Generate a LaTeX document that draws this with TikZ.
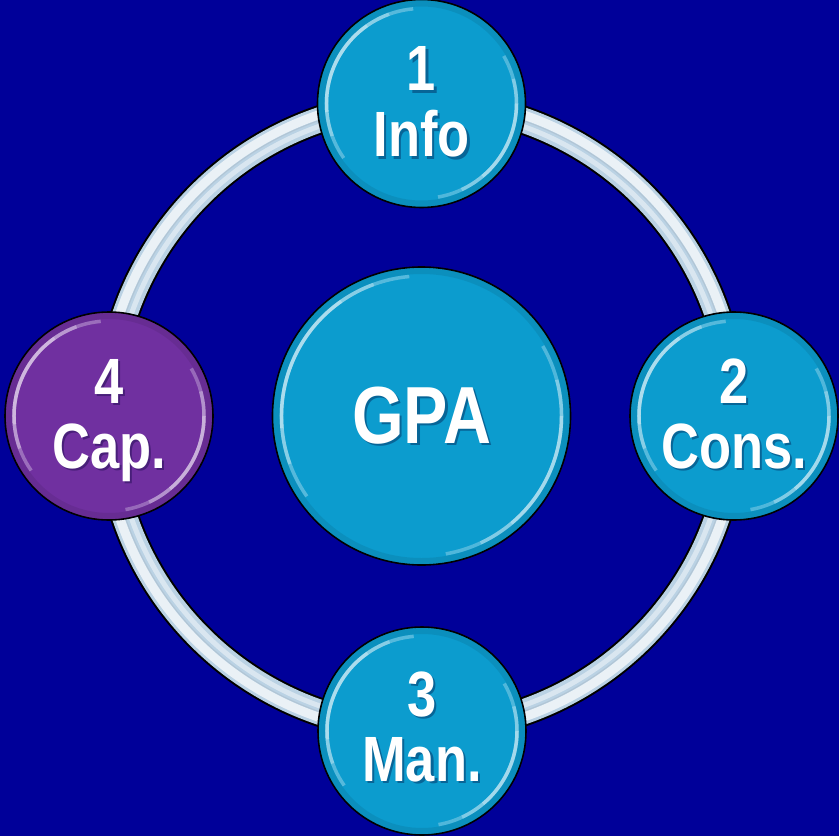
\documentclass[tikz,border=0pt]{standalone}
\usepackage{fontspec}
\setmainfont[FakeStretch=0.82]{Liberation Sans}
\definecolor{bgblue}{RGB}{0,0,153}
\definecolor{cyanball}{RGB}{12,156,206}
\definecolor{purpleball}{RGB}{112,48,160}
\definecolor{ringbase}{RGB}{186,210,228}
\newcommand{\glossball}[2]{%
  \draw[black, opacity=.08, line width=6] (#1.center) circle[radius=#2-4];
  \foreach \a/\b in {-215/-95,-200/-110,-185/-125}{%
    \draw[white, opacity=.3, line width=3.5] (#1.center) ++(\a:#2-9) arc[start angle=\a, end angle=\b, radius=#2-9];}
  \foreach \a/\b in {80/-30,65/-15,50/0}{%
    \draw[white, opacity=.28, line width=3.5] (#1.center) ++(\a:#2-9) arc[start angle=\a, end angle=\b, radius=#2-9];}
}
\tikzset{
  ball/.style={circle, draw=black, line width=1.6pt, minimum size=208pt, inner sep=0pt},
  bigball/.style={ball, minimum size=298pt},
  lbl/.style={text=white, font=\fontsize{64}{64}\selectfont\bfseries, anchor=base, inner sep=0pt},
  lblsh/.style={lbl, text=black!80!blue, opacity=.35},
  biglbl/.style={lbl, font=\fontsize{81}{81}\selectfont\bfseries},
  biglblsh/.style={biglbl, text=black!80!blue, opacity=.35},
}
\begin{document}
\begin{tikzpicture}[x=1pt,y=-1pt]
\fill[bgblue] (0,0) rectangle (839,836);
\useasboundingbox (0,0) rectangle (839,836);
% ring
\coordinate (o) at (421,416);
\draw[black, line width=29] (o) circle[radius=313];
\draw[ringbase, line width=25] (o) circle[radius=313];
\draw[white, opacity=.7, line width=9] (o) circle[radius=318];
\draw[white, opacity=.45, line width=5] (o) circle[radius=307];
\draw[ringbase!70!gray, opacity=.5, line width=1] (o) circle[radius=312.5];
% balls
\node[ball, fill=cyanball] (c1) at (421.5,103.5) {};
\node[ball, fill=cyanball] (c2) at (734,416) {};
\node[ball, fill=cyanball] (c3) at (422,731) {};
\node[ball, fill=purpleball] (c4) at (109,416) {};
\node[bigball, fill=cyanball] (c0) at (421.5,416) {};
\glossball{c1}{104}
\glossball{c2}{104}
\glossball{c3}{104}
\glossball{c4}{104}
\glossball{c0}{149}
% labels
\node[lblsh] (n1s) at ([shift={(2.5,2.5)}]c1.center) [yshift=13pt] {1};
\node[lbl]   (n1)  at (c1.center) [yshift=13pt] {1};
\node[lblsh] (w1s) at ([shift={(2.5,2.5)}]c1.center) [yshift=-53pt] {Info};
\node[lbl]   (w1)  at (c1.center) [yshift=-53pt] {Info};
\node[lblsh] (n2s) at ([shift={(2.5,2.5)}]c2.center) [yshift=13pt] {2};
\node[lbl]   (n2)  at (c2.center) [yshift=13pt] {2};
\node[lblsh] (w2s) at ([shift={(2.5,2.5)}]c2.center) [yshift=-52pt] {Cons.};
\node[lbl]   (w2)  at (c2.center) [yshift=-52pt] {Cons.};
\node[lblsh] (n3s) at ([shift={(2.5,2.5)}]c3.center) [yshift=15pt] {3};
\node[lbl]   (n3)  at (c3.center) [yshift=15pt] {3};
\node[lblsh] (w3s) at ([shift={(2.5,2.5)}]c3.center) [yshift=-50pt] {Man.};
\node[lbl]   (w3)  at (c3.center) [yshift=-50pt] {Man.};
\node[lblsh] (n4s) at ([shift={(2.5,2.5)}]c4.center) [yshift=13pt] {4};
\node[lbl]   (n4)  at (c4.center) [yshift=13pt] {4};
\node[lblsh] (w4s) at ([shift={(2.5,2.5)}]c4.center) [yshift=-52pt] {Cap.};
\node[lbl]   (w4)  at (c4.center) [yshift=-52pt] {Cap.};
\node[biglblsh] (gs) at ([shift={(2.5,2.5)}]c0.center) [yshift=-27pt] {GPA};
\node[biglbl]   (g)  at (c0.center) [yshift=-27pt] {GPA};
\end{tikzpicture}
\end{document}
